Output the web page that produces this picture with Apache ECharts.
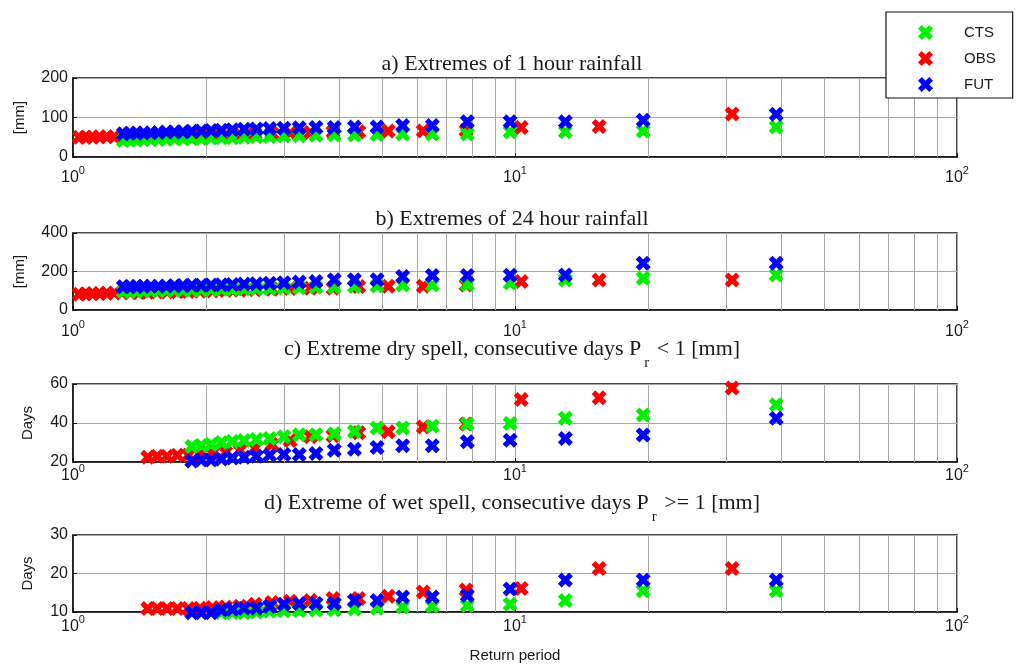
<!DOCTYPE html>
<html><head><meta charset="utf-8">
<script src="https://cdn.jsdelivr.net/npm/echarts@6/dist/echarts.min.js"></script>
<style>html,body{margin:0;padding:0;background:#fff}#c{width:1017px;height:666px}</style>
</head><body><div id="c"></div>
<script>
// Return periods (Weibull plotting positions)
const T_CTS_FUT = [39, 19.5, 13, 9.75, 7.8, 6.5, 5.571, 4.875, 4.333, 3.9, 3.545, 3.25, 3, 2.786, 2.6, 2.438, 2.294, 2.167, 2.053, 1.95, 1.857, 1.773, 1.696, 1.625, 1.56, 1.5, 1.444, 1.393, 1.345, 1.3];
const T_OBS = [31, 15.5, 10.33, 7.75, 6.2, 5.167, 4.429, 3.875, 3.444, 3.1, 2.818, 2.583, 2.385, 2.214, 2.067, 1.938, 1.824, 1.722, 1.632, 1.55, 1.476, 1.409, 1.348, 1.292, 1.24, 1.192, 1.148, 1.107, 1.069, 1.033];

// a) 1 hour rainfall [mm]
const a_OBS = [109, 77, 75, 67, 66, 66, 64, 63, 62, 61, 60, 59, 58, 57, 56, 55, 55, 54, 54, 53, 53, 52, 52, 52, 51, 51, 51, 50, 50, 50];
const a_CTS = [76, 66, 64, 64, 58, 58, 58, 57, 56, 56, 55, 54, 53, 52, 51, 50, 49, 49, 48, 47, 47, 46, 46, 45, 45, 44, 44, 43, 43, 42];
const a_FUT = [108, 93, 89, 89, 89, 80, 80, 76, 76, 75, 75, 74, 73, 72, 71, 70, 69, 68, 67, 66, 65, 64, 63, 63, 62, 61, 61, 60, 60, 59];
// b) 24 hour rainfall [mm]
const b_OBS = [156, 156, 148, 130, 124, 124, 122, 113, 113, 112, 108, 105, 103, 101, 99, 97, 96, 95, 94, 93, 92, 91, 90, 89, 88, 87, 86, 85, 84, 82];
const b_CTS = [182, 165, 156, 140, 132, 130, 130, 125, 122, 120, 118, 116, 114, 112, 110, 109, 108, 107, 106, 105, 104, 103, 102, 101, 100, 99, 98, 98, 97, 96];
const b_FUT = [243, 243, 182, 181, 179, 179, 174, 157, 157, 157, 148, 145, 142, 139, 137, 135, 133, 131, 130, 129, 128, 127, 126, 125, 124, 123, 123, 122, 122, 121];
// c) dry spell [days]
const c_OBS = [58, 53, 52, 39.5, 38, 35.5, 35, 33.5, 33, 31, 29, 27, 26, 25, 24.5, 24, 23.5, 23.5, 23, 23, 22.5];
const c_CTS = [49.3, 44.1, 42.4, 39.8, 39.5, 38.3, 37.4, 37.4, 35.7, 34.5, 34, 34, 33, 32, 31.5, 31, 30.5, 30, 29, 28.5, 28];
const c_FUT = [42.4, 33.8, 32, 31.2, 30.4, 28.3, 28.3, 27.5, 26.6, 26, 24.4, 23.8, 23.8, 23.5, 23, 22.5, 22, 21.5, 21, 21, 20.5];
// d) wet spell [days]
const d_OBS = [21.3, 21.3, 16.1, 15.7, 15.2, 14.1, 13.5, 13.5, 13, 12.8, 12.5, 12, 11.5, 11.3, 11.2, 11, 10.9, 10.9, 10.9, 10.9, 10.9];
const d_CTS = [15.5, 15.5, 13, 12, 11.7, 11.5, 11.3, 11, 10.8, 10.6, 10.5, 10.4, 10.3, 10.2, 10, 9.8, 9.8, 9.8];
const d_FUT = [18.3, 18.3, 18.3, 16, 14.3, 13.9, 13.9, 13, 13, 12.2, 12.2, 12.2, 12, 11.5, 11, 11, 10.7, 10.5, 9.8, 9.8, 9.8];

const yTicks_a = [0, 100, 200];
const yTicks_b = [0, 200, 400];
const yTicks_c = [20, 40, 60];
const yTicks_d = [10, 20, 30];
const minorGridValues = [2, 3, 4, 5, 6, 7, 8, 9, 20, 30, 40, 50, 60, 70, 80, 90];

const seriesNames = ['CTS', 'OBS', 'FUT'];
const colors = { CTS: '#00f000', OBS: '#ff0000', FUT: '#0000ff' };
const XMARK = 'path://M0,2.5 L2.5,0 L5,2.5 L7.5,0 L10,2.5 L7.5,5 L10,7.5 L7.5,10 L5,7.5 L2.5,10 L0,7.5 L2.5,5 Z';

const panels = [
  { top: 78, height: 79, ticks: yTicks_a, OBS: a_OBS, CTS: a_CTS, FUT: a_FUT, yname: '[mm]', ygap: 46, lm: 8,
    title: 'a) Extremes of 1 hour rainfall', ttop: 51, lh: 26 },
  { top: 233, height: 77, ticks: yTicks_b, OBS: b_OBS, CTS: b_CTS, FUT: b_FUT, yname: '[mm]', ygap: 46, lm: 9,
    title: 'b) Extremes of 24 hour rainfall', ttop: 206, lh: 26 },
  { top: 384, height: 78, ticks: yTicks_c, OBS: c_OBS, CTS: c_CTS, FUT: c_FUT, yname: 'Days', ygap: 38, lm: 1,
    title: 'c) Extreme dry spell, consecutive days P{r|r} < 1 [mm]', ttop: 327, lh: 44 },
  { top: 535, height: 77, ticks: yTicks_d, OBS: d_OBS, CTS: d_CTS, FUT: d_FUT, yname: 'Days', ygap: 38, lm: 2,
    title: 'd) Extreme of wet spell, consecutive days P{r|r} >= 1 [mm]', ttop: 481, lh: 44 }
];

const txt = '#1a1a1a';
const gridColor = '#a8a8a8';

const grid = [], xAxis = [], yAxis = [], series = [], title = [];
panels.forEach((p, i) => {
  grid.push({ left: 73, right: 60, top: p.top, height: p.height, show: true,
    borderColor: '#111', borderWidth: 1.5, backgroundColor: 'transparent' });
  xAxis.push({
    type: 'log', logBase: 10, min: 1, max: 100, gridIndex: i,
    axisLine: { show: true, lineStyle: { color: '#111', width: 1.5 } },
    axisTick: { show: true, inside: true, length: 4, lineStyle: { color: '#111' } },
    splitLine: { show: true, lineStyle: { color: gridColor, width: 1 } },
    minorTick: { show: false },
    axisLabel: {
      margin: p.lm, color: txt, showMinLabel: true, showMaxLabel: true,
      formatter: v => '{b|10}{s|' + Math.round(Math.log10(v)) + '}',
      rich: {
        b: { fontFamily: 'Liberation Sans', fontSize: 16, lineHeight: 26, color: txt },
        s: { fontFamily: 'Liberation Sans', fontSize: 11, lineHeight: 10, verticalAlign: 'top', color: txt }
      }
    },
    name: i === 3 ? 'Return period' : '', nameLocation: 'middle', nameGap: 36,
    nameTextStyle: { fontFamily: 'Liberation Sans', fontSize: 15, color: txt }
  });
  yAxis.push({
    type: 'value', gridIndex: i, min: p.ticks[0], max: p.ticks[p.ticks.length - 1],
    interval: p.ticks[1] - p.ticks[0],
    axisLine: { show: true, lineStyle: { color: '#111', width: 1.5 } },
    axisTick: { show: true, inside: true, length: 4, lineStyle: { color: '#111' } },
    splitLine: { show: true, lineStyle: { color: gridColor, width: 1 } },
    axisLabel: { margin: 5, color: txt, fontFamily: 'Liberation Sans', fontSize: 16 },
    name: p.yname, nameLocation: 'middle', nameRotate: 90, nameGap: p.ygap,
    nameTextStyle: { fontFamily: 'Liberation Sans', fontSize: 15, color: txt }
  });
  title.push({
    text: p.title, left: 512, top: p.ttop, textAlign: 'center', padding: 0,
    textStyle: {
      fontFamily: 'Liberation Serif', fontSize: 22, fontWeight: 'normal', color: txt, lineHeight: p.lh,
      rich: { r: { fontFamily: 'Liberation Serif', fontSize: 15, lineHeight: 12, verticalAlign: 'bottom', color: txt, padding: [0, 2, 0, 3] } }
    }
  });
  ['OBS', 'CTS', 'FUT'].forEach((name, k) => {
    const T = name === 'OBS' ? T_OBS : T_CTS_FUT;
    const s = {
      name, type: 'scatter', xAxisIndex: i, yAxisIndex: i,
      data: p[name].map((v, j) => [T[j], v]),
      symbol: XMARK, symbolSize: 15, clip: false, z: 3 + k,
      itemStyle: { color: colors[name], opacity: 1 },
      emphasis: { disabled: true }
    };
    if (k === 0) {
      s.markLine = {
        silent: true, symbol: ['none', 'none'], label: { show: false }, animation: false, z: 1,
        lineStyle: { color: gridColor, type: 'solid', width: 1 },
        emphasis: { disabled: true },
        data: minorGridValues.map(v => ({ xAxis: v }))
      };
    }
    series.push(s);
  });
});

const chart = echarts.init(document.getElementById('c'), null, { renderer: 'canvas' });
chart.setOption({
  backgroundColor: '#fff',
  animation: false,
  title, grid, xAxis, yAxis, series,
  legend: {
    left: 886, top: 12, orient: 'vertical',
    data: seriesNames.map(n => ({ name: n, icon: XMARK })),
    itemWidth: 15, itemHeight: 15, itemGap: 11,
    padding: [13, 17, 6, 32],
    backgroundColor: '#fff', borderColor: '#111', borderWidth: 1.2,
    selectedMode: false,
    textStyle: { fontFamily: 'Liberation Sans', fontSize: 15, color: txt, padding: [0, 0, 0, 26] }
  }
});
</script></body></html>
